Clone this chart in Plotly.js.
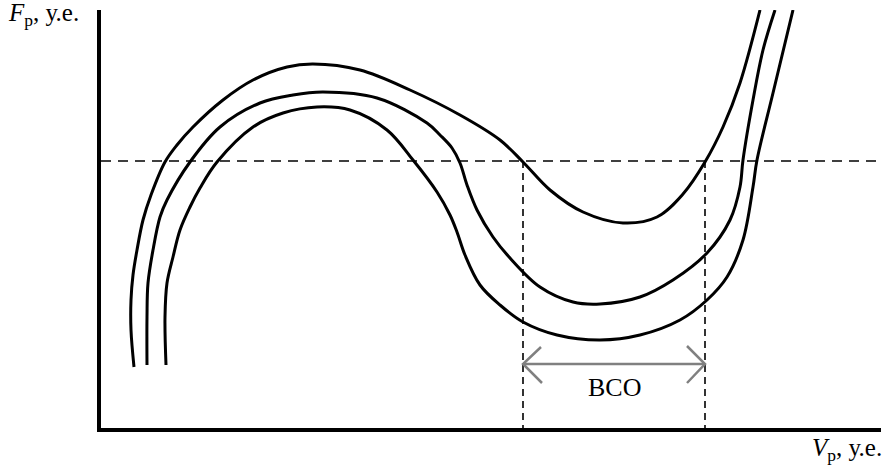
<!DOCTYPE html>
<html>
<head>
<meta charset="utf-8">
<script src="https://cdn.plot.ly/plotly-3.0.1.min.js"></script>
<style>html,body{margin:0;padding:0;background:#fff;}#chart{width:886px;height:466px;}</style>
</head>
<body>
<div id="chart"></div>
<script>
// Schematic values (arbitrary units, у.е.)
var upperX = [33,30,30,32,36,42,50,64,76,92,122,152,186,212,259,309,359,399,422,449,482,522,556,582,604,622,639,659];
var upperY = [61,98,128,153,178,208,233,266,283,301,328,348,361,364,358,338,313,288,266,238,216,205,211,234,266,301,345,418];

var middleX = [46,46,47,52,59,66,89,119,159,192,222,276,326,339,351,359,366,376,392,409,439,472,499,539,572,606,629,639,642,652,662,674];
var middleY = [63,111,145,178,211,228,266,301,325,333,336,330,305,293,280,265,243,218,191,170,141,126,124,131,148,175,208,241,268,328,378,418];

var lowerX = [65,64,66,72,79,89,99,116,152,182,216,249,286,312,336,349,356,364,379,399,422,456,499,539,579,606,626,642,652,656,672,692];
var lowerY = [63,111,145,171,198,221,240,266,301,315,321,318,298,268,236,213,196,173,143,123,106,93,88,93,108,128,151,188,241,268,335,418];

var levelF = 267;          // horizontal dashed level
var zoneX = [422, 604];    // borders of the ВСО zone
var arrowY = 64;
var xMax = 780, yMax = 418;

var labelF = '<i>F</i><sub>р</sub>, у.е.';
var labelV = '<i>V</i><sub>р</sub>, у.е.';
var zoneLabel = 'ВСО';

var curveLine = {color: '#000', width: 3, shape: 'spline', smoothing: 1};
var traces = [
  {x: upperX, y: upperY, mode: 'lines', line: curveLine, hoverinfo: 'skip'},
  {x: middleX, y: middleY, mode: 'lines', line: curveLine, hoverinfo: 'skip'},
  {x: lowerX, y: lowerY, mode: 'lines', line: curveLine, hoverinfo: 'skip'},
  // horizontal dashed level
  {x: [0, xMax], y: [levelF, levelF], mode: 'lines', line: {color: '#000', width: 1.6, dash: '10px,7px'}, hoverinfo: 'skip'},
  // vertical dashed borders
  {x: [zoneX[0], zoneX[0], null, zoneX[1], zoneX[1]], y: [levelF, 0, null, levelF, 0], mode: 'lines', line: {color: '#000', width: 1.6, dash: '7px,5px'}, hoverinfo: 'skip'},
  // double arrow
  {x: [zoneX[0], zoneX[1], null,
       zoneX[0] + 18, zoneX[0], zoneX[0] + 19, null,
       zoneX[1] - 18, zoneX[1], zoneX[1] - 18],
   y: [arrowY, arrowY, null,
       arrowY + 17, arrowY, arrowY - 19, null,
       arrowY + 18, arrowY, arrowY - 19],
   mode: 'lines', line: {color: '#808080', width: 2.5}, hoverinfo: 'skip'}
];

var layout = {
  width: 886, height: 466,
  margin: {l: 101, r: 5, t: 10, b: 38, pad: 0},
  paper_bgcolor: '#fff', plot_bgcolor: '#fff',
  showlegend: false,
  xaxis: {range: [0, xMax], showgrid: false, zeroline: false, showticklabels: false, ticks: '',
          showline: true, linecolor: '#000', linewidth: 4, fixedrange: true},
  yaxis: {range: [0, yMax], showgrid: false, zeroline: false, showticklabels: false, ticks: '',
          showline: true, linecolor: '#000', linewidth: 4, fixedrange: true},
  font: {family: '"Liberation Serif", "Times New Roman", serif', color: '#000'},
  annotations: [
    {text: labelF, xref: 'paper', yref: 'paper', x: -0.122, y: 0.99, xanchor: 'left', yanchor: 'middle',
     showarrow: false, font: {size: 25}},
    {text: labelV, xref: 'paper', yref: 'paper', x: 1.004, y: -0.052, xanchor: 'right', yanchor: 'middle',
     showarrow: false, font: {size: 25}},
    {text: zoneLabel, x: (zoneX[0] + zoneX[1]) / 2, y: 41, xref: 'x', yref: 'y', showarrow: false,
     font: {size: 26}}
  ]
};

Plotly.newPlot('chart', traces, layout, {staticPlot: true, displayModeBar: false});
</script>
</body>
</html>
